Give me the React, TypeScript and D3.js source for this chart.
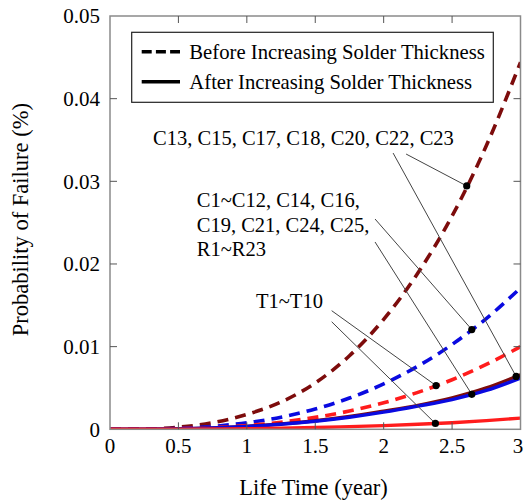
import React from 'react'
import * as d3 from 'd3'

// life time (year)
const years = [0, 0.25, 0.5, 0.75, 1, 1.25, 1.5, 1.75, 2, 2.25, 2.5, 2.75, 3]

// probability of failure (%)
const darkBefore = [0, 0.00003, 0.00025, 0.0008, 0.0018, 0.0033, 0.0056, 0.0089, 0.0133, 0.0189, 0.0258, 0.0343, 0.0444]
const blueBefore = [0, 0.000016, 0.000113, 0.00035, 0.00079, 0.00147, 0.00246, 0.00378, 0.00549, 0.00764, 0.01026, 0.0134, 0.0171]
const redBefore = [0, 0.00001, 0.000066, 0.00021, 0.00046, 0.00086, 0.00144, 0.00221, 0.00321, 0.00447, 0.006, 0.00784, 0.01]
const darkAfter = [0, 0.00001, 0.00006, 0.00017, 0.00036, 0.00065, 0.00104, 0.00155, 0.0022, 0.0029, 0.0038, 0.005, 0.0066]
const blueAfter = [0, 0.00001, 0.000055, 0.00016, 0.00034, 0.00061, 0.00098, 0.00146, 0.00207, 0.0028, 0.0036, 0.0047, 0.0062]
const redAfter = [0, 0, 0.00001, 0.00003, 0.00007, 0.00013, 0.00021, 0.00032, 0.00045, 0.00061, 0.0008, 0.00105, 0.00135]

const xTicks = [0, 0.5, 1, 1.5, 2, 2.5, 3]
const yTicks = [0, 0.01, 0.02, 0.03, 0.04, 0.05]

const series = [
  { values: darkBefore, color: '#7d0c0c', dashed: true },
  { values: blueBefore, color: '#0a0ae0', dashed: true },
  { values: redBefore, color: '#ff1c1c', dashed: true },
  { values: darkAfter, color: '#7d0c0c', dashed: false },
  { values: blueAfter, color: '#0a0ae0', dashed: false },
  { values: redAfter, color: '#ff1c1c', dashed: false },
]

const legendItems = ['Before Increasing Solder Thickness', 'After Increasing Solder Thickness']

// label lines + leader lines (start given in data units, end is a point on a series)
const labels = [
  { lines: ['C13, C15, C17, C18, C20, C22, C23'], t: 0.315, p: 0.03445 },
  { lines: ['C1~C12, C14, C16,', 'C19, C21, C24, C25,', 'R1~R23'], t: 0.634, p: 0.02686 },
  { lines: ['T1~T10'], t: 1.067, p: 0.01471 },
]
const leaders = [
  { t0: 2.069, p0: 0.03342, series: 3, t: 2.968 },
  { t0: 2.164, p0: 0.0333, series: 0, t: 2.607 },
  { t0: 1.937, p0: 0.02544, series: 1, t: 2.644 },
  { t0: 1.937, p0: 0.02266, series: 4, t: 2.644 },
  { t0: 1.62, p0: 0.01435, series: 2, t: 2.383 },
  { t0: 1.62, p0: 0.01301, series: 5, t: 2.378 },
]

const W = 524
const H = 503
const left = 110, right = 520.5, top = 16, bottom = 429.3
const font = '"Liberation Serif", "Times New Roman", serif'

const App = () => {
  const x = d3.scaleLinear().domain([0, 3]).range([left, right])
  const y = d3.scaleLinear().domain([0, 0.05]).range([bottom, top])
  const line = d3.line<number>()
    .x((d, i) => x(years[i]))
    .y(d => y(d))
    .curve(d3.curveMonotoneX)

  const valueAt = (vals: number[], t: number) => {
    const i = Math.min(Math.floor(t / 0.25), years.length - 2)
    const f = (t - years[i]) / (years[i + 1] - years[i])
    return vals[i] + (vals[i + 1] - vals[i]) * f
  }

  return (
    <svg width={W} height={H} style={{ position: 'absolute', left: 0, top: 0, background: '#fff' }} fontFamily={font}>
      <defs>
        <clipPath id="plot">
          <rect x={left} y={top} width={right - left} height={bottom - top} />
        </clipPath>
      </defs>

      {/* curves */}
      <g clipPath="url(#plot)">
        {series.map((s, i) => (
          <path key={i} d={line(s.values) || ''} fill="none" stroke={s.color}
            strokeWidth={s.dashed ? 3.6 : 3.4}
            strokeDasharray={s.dashed ? '11,7' : undefined} />
        ))}
      </g>

      {/* frame */}
      <rect x={left} y={top} width={right - left} height={bottom - top} fill="none" stroke="#8a8a8a" strokeWidth={1.5} />
      {xTicks.slice(1, -1).map(t => (
        <g key={'xt' + t} stroke="#555" strokeWidth={1}>
          <line x1={x(t)} x2={x(t)} y1={bottom} y2={bottom - 7} />
          <line x1={x(t)} x2={x(t)} y1={top} y2={top + 7} />
        </g>
      ))}
      {yTicks.slice(1, -1).map(t => (
        <g key={'yt' + t} stroke="#555" strokeWidth={1}>
          <line x1={left} x2={left + 7} y1={y(t)} y2={y(t)} />
          <line x1={right} x2={right - 7} y1={y(t)} y2={y(t)} />
        </g>
      ))}

      {/* tick labels */}
      {xTicks.map(t => (
        <text key={'xl' + t} x={Math.min(x(t), W - 6)} y={453} fontSize={21} textAnchor="middle">{String(t)}</text>
      ))}
      {yTicks.map(t => (
        <text key={'yl' + t} x={100} y={y(t)} dy="0.35em" fontSize={21} textAnchor="end">{String(t)}</text>
      ))}

      {/* axis titles */}
      <text x={313.5} y={495} fontSize={22.5} textAnchor="middle">Life Time (year)</text>
      <text transform={`translate(28,${(top + bottom) / 2 - 3}) rotate(-90)`} fontSize={22.5} textAnchor="middle">Probability of Failure (%)</text>

      {/* legend */}
      <rect x={131.7} y={32.3} width={361.6} height={70} fill="#fff" stroke="#222" strokeWidth={1.2} />
      {legendItems.map((txt, i) => (
        <g key={txt}>
          <line x1={141.7} x2={180} y1={51.7 + i * 30} y2={51.7 + i * 30} stroke="#000" strokeWidth={3.6}
            strokeDasharray={i === 0 ? '10,4.2' : undefined} />
          <text x={189.3} y={59.3 + i * 30} fontSize={20.7}>{txt}</text>
        </g>
      ))}

      {/* annotations */}
      {labels.map((l, i) => (
        <text key={'lab' + i} x={x(l.t)} y={y(l.p)} fontSize={20.5}>
          {l.lines.map((s, j) => (
            <tspan key={j} x={x(l.t)} dy={j === 0 ? 0 : 24.4}>{s}</tspan>
          ))}
        </text>
      ))}
      {leaders.map((d, i) => (
        <line key={'ld' + i} x1={x(d.t0)} y1={y(d.p0)} x2={x(d.t)} y2={y(valueAt(series[d.series].values, d.t))}
          stroke="#444" strokeWidth={1} />
      ))}
      {leaders.map((d, i) => (
        <circle key={'dot' + i} cx={x(d.t)} cy={y(valueAt(series[d.series].values, d.t))} r={3.6} fill="#000" />
      ))}
    </svg>
  )
}

export default App
